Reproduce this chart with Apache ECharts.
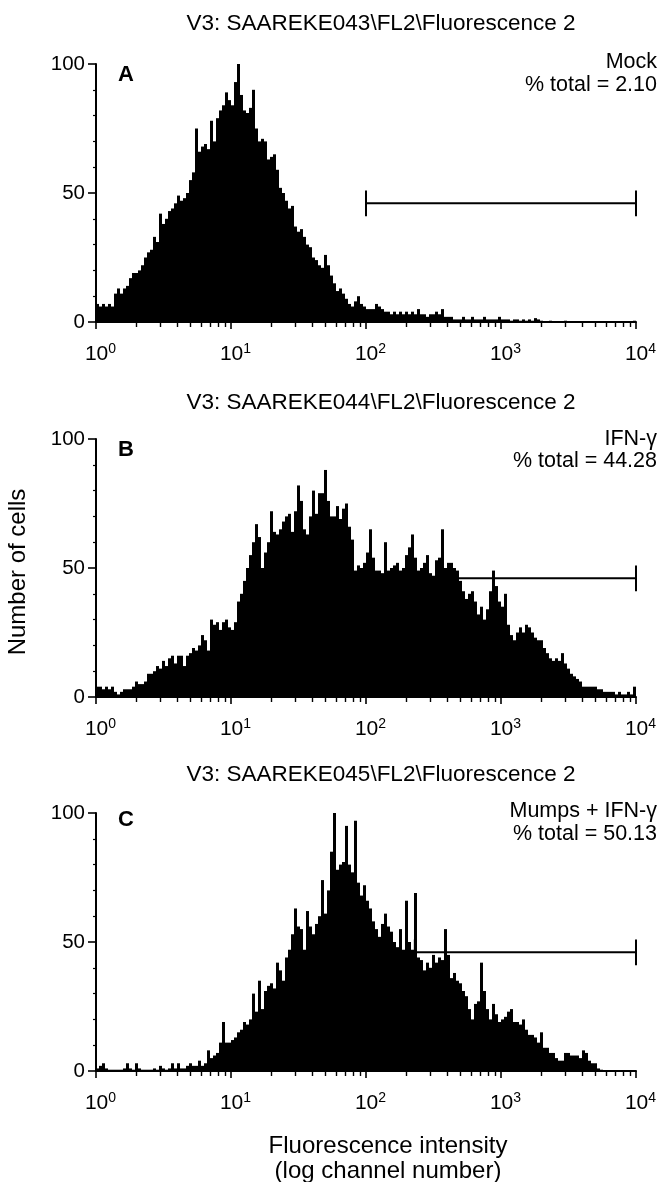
<!DOCTYPE html>
<html><head><meta charset="utf-8">
<script src="https://cdn.jsdelivr.net/npm/echarts@6/dist/echarts.min.js"></script>
<style>html,body{margin:0;padding:0;background:#fff}#c{width:663px;height:1182px}</style>
</head><body><div id="c"></div>
<script>
// ---- data (counts per log channel bin, 45 bins per decade, 10^0 .. 10^4) ----
const mockCounts = [
7,6,7,6,7,6,11,13,11,13,
14,17,19,19,20,22,25,27,28,33,
31,42,38,40,43,44,46,49,47,48,
50,55,58,75,66,68,69,67,78,70,
79,82,84,89,86,84,93,100,88,82,
81,83,90,75,70,71,70,63,64,65,
59,52,50,47,44,45,37,35,36,33,
30,29,25,24,22,21,26,22,18,15,
12,13,11,9,7,6,8,10,7,6,
5,5,5,7,6,5,4,4,3,4,
3,4,3,4,3,4,3,5,3,3,
2,3,3,4,3,5,2,2,2,1,
1,1,2,1,1,2,1,1,1,2,
1,1,1,1,2,1,1,1,0.5,1,
1,0.5,1,0.5,1,0.5,1.5,1,0.5,0.3,
0.3,0.5,0.3,0,0.3,0.3,0.5,0.3,0,0.3,
0.3,0.3,0,0.3,0.3,0.3,0.3,0,0.3,0.3,
0.3,0,0.3,0.3,0.3,0.3,0,0.3,0.3,0.5
];
const ifnCounts = [
4,4,3,4,3,4,2,1,2,3,
3,3,4,6,5,5,6,9,9,10,
12,11,14,12,15,16,13,16,16,12,
16,17,19,18,20,24,22,18,30,28,
29,26,29,30,27,26,29,37,40,45,
50,55,60,67,62,50,56,60,72,64,
63,65,68,70,71,64,72,82,76,65,
63,70,80,71,79,79,88,76,70,70,
74,69,73,75,66,61,49,51,50,52,
56,65,54,49,49,48,60,49,50,51,
52,49,50,55,58,63,54,49,50,52,
55,48,47,53,54,65,50,52,52,50,
49,45,41,38,40,41,37,32,35,30,
34,41,49,43,37,35,40,28,24,22,
25,27,25,28,27,25,23,22,22,19,
17,15,14,15,14,17,13,11,9,8,
7,6,4,4,4,4,4,3,3,2,
2,2,2,1,2,1,1,2,1,4
];
const mumpsIfnCounts = [
1,2,3,1,0.5,0.5,0.5,0.5,0.5,1,
3,1,0.5,3,1,0.5,0.5,0.5,0.5,1,
0.5,2,1,0.5,1,3,1,3,1,1,
2,3,2,2,4,2,3,8,5,6,
7,11,19,11,11,12,13,15,16,19,
18,20,30,23,35,24,31,33,34,32,
42,39,35,44,47,53,63,56,55,47,
62,56,53,57,60,74,61,70,85,100,
78,80,81,95,80,77,97,73,68,72,
66,63,58,55,52,57,61,56,54,50,
48,55,47,66,50,47,69,44,43,39,
42,40,45,42,44,43,55,45,36,38,
35,34,31,29,24,20,26,27,42,31,
24,20,26,22,19,20,21,23,24,19,
19,18,20,16,14,14,13,11,15,9,
9,7,7,5,4,4,7,7,6,6,
6,5,8,7,4,3,3,1,0.5,0.3,
0.3,0.3,0.3,0.3,0.3,0.3,0.3,0.3,0.3,0.3
];
const panelTitles = ['V3: SAAREKE043\\FL2\\Fluorescence 2', 'V3: SAAREKE044\\FL2\\Fluorescence 2', 'V3: SAAREKE045\\FL2\\Fluorescence 2'];
const panelLetters = ['A', 'B', 'C'];
const conditionLabels = ['Mock', 'IFN-\u03b3', 'Mumps + IFN-\u03b3'];
const percentTotals = ['2.10', '44.28', '50.13'];
const gateStarts = [100, 280, 230];   // channel value of gate start
const gateEnds = [10000, 10000, 10000];
const gateLevels = [46, 46, 46];
const decadeTicks = [1, 10, 100, 1000, 10000];
const decadeExponents = ['0', '1', '2', '3', '4'];
const minorTickValues = [2,3,4,5,6,7,8,9, 20,30,40,50,60,70,80,90, 200,300,400,500,600,700,800,900, 2000,3000,4000,5000,6000,7000,8000,9000];
const yTickValues = [0, 50, 100];
const yLabel = 'Number of cells';
const xLabelLines = ['Fluorescence intensity', '(log channel number)'];

// ---- chart ----
const FONT = 'Liberation Sans, Arial, Helvetica, sans-serif';
const countsList = [mockCounts, ifnCounts, mumpsIfnCounts];
const channels = mockCounts.map((_, i) => String(i));
const gridTops = [64, 439, 813];
const gridH = 258;
const gridLeft = 96, gridW = 540;

const grids = [], xAxes = [], yAxes = [], series = [], graphics = [];
const lg = v => Math.log10(v);

function txt(x, y, text, font, align, rot) {
  graphics.push({
    type: 'text', x: x, y: y, rotation: rot || 0, silent: true,
    style: { text: text, font: font, fill: '#000', align: align || 'center', verticalAlign: 'middle',
             textAlign: align || 'center', textVerticalAlign: 'middle' }
  });
}

for (let p = 0; p < 3; p++) {
  grids.push({ left: gridLeft, top: gridTops[p], width: gridW, height: gridH, containLabel: false });
  xAxes.push({ type: 'category', gridIndex: p, data: channels, show: false, boundaryGap: true });
  xAxes.push({
    type: 'value', gridIndex: p, min: lg(decadeTicks[0]), max: lg(decadeTicks[4]), position: 'bottom',
    axisLine: { show: true, onZero: false, lineStyle: { color: '#000', width: 2 } },
    axisTick: { show: true, length: 7, inside: false, lineStyle: { color: '#000', width: 1.6 }, customValues: decadeTicks.map(lg) },
    axisLabel: {
      show: true, customValues: decadeTicks.map(lg), margin: 20, padding: [0, 0, 0, 9],
      formatter: v => '{b|10}{s|' + decadeExponents[Math.round(v)] + '}',
      rich: {
        b: { fontSize: 21, fontFamily: FONT, color: '#000', lineHeight: 24 },
        s: { fontSize: 14, fontFamily: FONT, color: '#000', lineHeight: 10, verticalAlign: 'top' }
      }
    },
    splitLine: { show: false }
  });
  xAxes.push({
    type: 'value', gridIndex: p, min: 0, max: 4, position: 'bottom',
    axisLine: { show: false, onZero: false },
    axisTick: { show: true, length: 5, inside: false, lineStyle: { color: '#000', width: 1.4 }, customValues: minorTickValues.map(lg) },
    axisLabel: { show: false }, splitLine: { show: false }
  });
  yAxes.push({
    type: 'value', gridIndex: p, min: yTickValues[0], max: yTickValues[2], interval: 50,
    axisLine: { show: true, lineStyle: { color: '#000', width: 2 } },
    axisTick: { show: true, length: 8, lineStyle: { color: '#000', width: 1.6 } },
    minorTick: { show: true, splitNumber: 5, length: 3, lineStyle: { color: '#000', width: 1.2 } },
    axisLabel: { fontSize: 20.5, fontFamily: FONT, color: '#000', margin: 11 },
    splitLine: { show: false }
  });
  series.push({
    type: 'bar', xAxisIndex: 3 * p, yAxisIndex: p, data: countsList[p],
    barCategoryGap: '0%', barGap: '0%', itemStyle: { color: '#000' }, silent: true, z: 2
  });
  const g0 = lg(gateStarts[p]), g1 = lg(gateEnds[p]), gl = gateLevels[p];
  const segs = [
    [[g0, gl - 5], [g0, gl + 5]],
    [[g0, gl], [g1, gl]],
    [[g1, gl - 5], [g1, gl + 5]]
  ];
  segs.forEach(s => series.push({
    type: 'line', xAxisIndex: 3 * p + 1, yAxisIndex: p, data: s, symbol: 'none', silent: true, z: 3,
    lineStyle: { color: '#000', width: 2 }
  }));

  const top = gridTops[p];
  txt(381, top - [40, 36, 38][p], panelTitles[p], '22.5px ' + FONT, 'center');
  txt(118, top + [10.5, 10.5, 7][p], panelLetters[p], 'bold 22px ' + FONT, 'left');
  txt(657, top + [-1.5, 0.5, -1.5][p], conditionLabels[p], '21.5px ' + FONT, 'right');
  txt(657, top + [21.5, 22, 21.5][p], '% total = ' + percentTotals[p], '21.5px ' + FONT, 'right');
}
txt(18, 572, yLabel, '24px ' + FONT, 'center', Math.PI / 2);
txt(388, 1146, xLabelLines[0], '24px ' + FONT, 'center');
txt(388, 1171, xLabelLines[1], '24px ' + FONT, 'center');

const chart = echarts.init(document.getElementById('c'), null, { renderer: 'canvas' });
chart.setOption({
  backgroundColor: '#fff', animation: false,
  grid: grids, xAxis: xAxes, yAxis: yAxes, series: series, graphic: graphics
});
</script></body></html>
